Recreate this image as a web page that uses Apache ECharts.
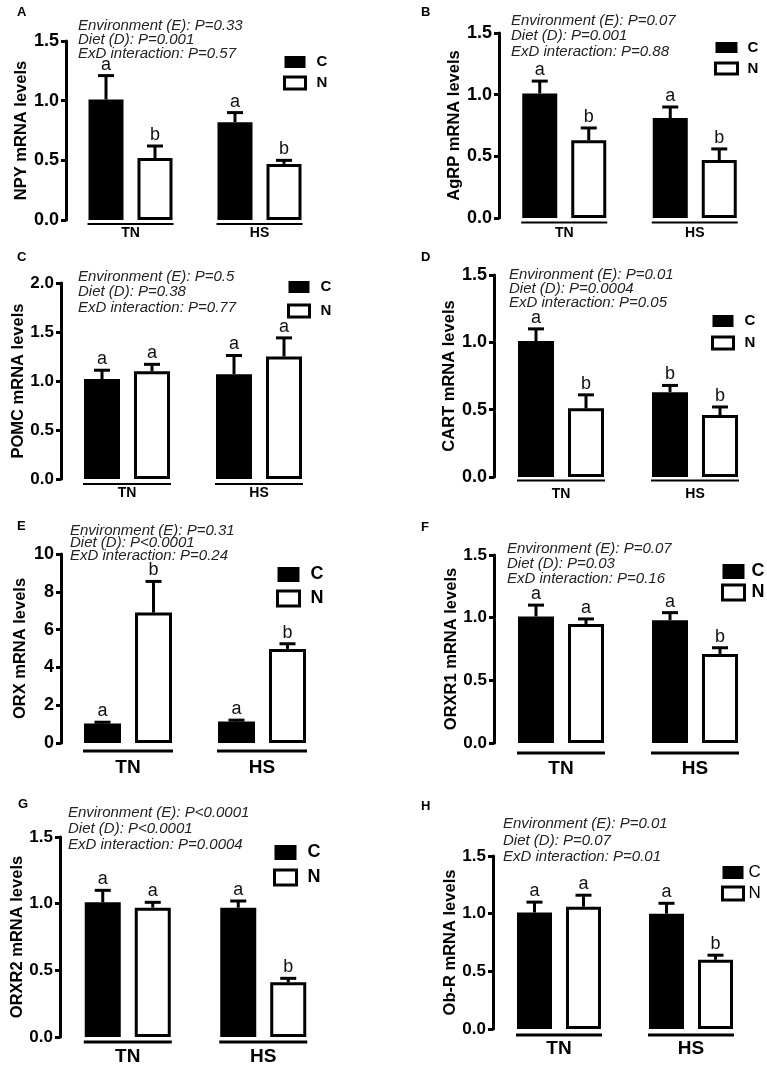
<!DOCTYPE html>
<html>
<head>
<meta charset="utf-8">
<script src="https://cdn.jsdelivr.net/npm/echarts@6/dist/echarts.min.js"></script>
<style>
html,body{margin:0;padding:0;background:#fff;}
#chart{width:767px;height:1066px;}
</style>
</head>
<body>
<div id="chart"></div>
<script>
// ---------- data ----------
const groups = ['TN', 'HS'];
const diets = ['C', 'N'];
const panelLetters = ['A', 'B', 'C', 'D', 'E', 'F', 'G', 'H'];
const yNames = ['NPY mRNA levels', 'AgRP mRNA levels', 'POMC mRNA levels', 'CART mRNA levels',
                'ORX mRNA levels', 'ORXR1 mRNA levels', 'ORXR2 mRNA levels', 'Ob-R mRNA levels'];
const yMax = [1.5, 1.5, 2.0, 1.5, 10, 1.5, 1.5, 1.5];
const yStep = [0.5, 0.5, 0.5, 0.5, 2, 0.5, 0.5, 0.5];
const meanC = [[1.01, 0.82], [1.01, 0.81], [1.02, 1.07], [1.01, 0.63], [1.03, 1.14], [1.01, 0.98], [1.01, 0.97], [1.01, 1.00]];
const semC  = [[0.20, 0.08], [0.10, 0.09], [0.09, 0.19], [0.09, 0.05], [0.07, 0.07], [0.09, 0.06], [0.09, 0.05], [0.09, 0.09]];
const meanN = [[0.52, 0.47], [0.63, 0.47], [1.10, 1.25], [0.51, 0.46], [6.90, 4.98], [0.95, 0.71], [0.97, 0.41], [1.06, 0.60]];
const semN  = [[0.10, 0.03], [0.10, 0.09], [0.07, 0.19], [0.10, 0.06], [1.65, 0.27], [0.04, 0.05], [0.04, 0.03], [0.10, 0.04]];
const letterC = [['a', 'a'], ['a', 'a'], ['a', 'a'], ['a', 'b'], ['a', 'a'], ['a', 'a'], ['a', 'a'], ['a', 'a']];
const letterN = [['b', 'b'], ['b', 'b'], ['a', 'a'], ['b', 'b'], ['b', 'b'], ['a', 'b'], ['a', 'b'], ['a', 'b']];
const pEnv  = ['P=0.33', 'P=0.07', 'P=0.5', 'P=0.01', 'P=0.31', 'P=0.07', 'P<0.0001', 'P=0.01'];
const pDiet = ['P=0.001', 'P=0.001', 'P=0.38', 'P=0.0004', 'P<0.0001', 'P=0.03', 'P<0.0001', 'P=0.07'];
const pInt  = ['P=0.57', 'P=0.88', 'P=0.77', 'P=0.05', 'P=0.24', 'P=0.16', 'P=0.0004', 'P=0.01'];

// ---------- layout (positions / styles) ----------
const FONT = '"Liberation Sans", Arial, Helvetica, sans-serif';
const layout = [
  {grid: [66, 41, 258, 179], bw: 35, yFont: 18, xFont: 14, xMargin: 6, ul: 4, ulW: 2, stat: [78, 18, 14], leg: [283, 54.5, 21, 12, 6], legFont: 15, legBold: true, legPad: 6, letter: [17, 6]},
  {grid: [499, 33, 261, 185], bw: 35, yFont: 18, xFont: 14, xMargin: 8, ul: 4.5, ulW: 2, stat: [511, 13, 15.5], leg: [714, 40, 22, 11, 6], legFont: 15, legBold: true, legPad: 5, letter: [421, 6]},
  {grid: [61, 283, 264, 196], bw: 36, yFont: 17, xFont: 14, xMargin: 7, ul: 5, ulW: 2, stat: [78, 269, 15.5], leg: [287, 279.5, 21, 12, 9], legFont: 15, legBold: true, legPad: 6, letter: [17, 251]},
  {grid: [494, 275, 268, 202], bw: 36, yFont: 18, xFont: 14, xMargin: 10, ul: 3.5, ulW: 2, stat: [509, 267, 14], leg: [711, 313.5, 21, 12, 7], legFont: 15, legBold: true, legPad: 6, letter: [421, 251]},
  {grid: [61, 554, 268, 189], bw: 37, yFont: 18, xFont: 19, xMargin: 15, ul: 8, ulW: 3, stat: [70, 523, 12.5], leg: [276, 565.5, 22, 15, 6], legFont: 18, legBold: true, legPad: 6, letter: [17, 520]},
  {grid: [494, 555, 268, 188], bw: 36, yFont: 17, xFont: 19, xMargin: 16, ul: 10, ulW: 3, stat: [507, 541, 15], leg: [721, 562.5, 22, 15, 3], legFont: 18, legBold: true, legPad: 2, letter: [421, 521]},
  {grid: [60, 837, 271, 201], bw: 36, yFont: 17, xFont: 19, xMargin: 10, ul: 5, ulW: 3, stat: [68, 805, 16], leg: [273, 843.5, 22, 15, 7], legFont: 18, legBold: true, legPad: 6, letter: [18, 798]},
  {grid: [493, 856, 264, 173], bw: 35, yFont: 17, xFont: 19, xMargin: 10, ul: 6, ulW: 3, stat: [503, 816, 16.5], leg: [721, 864, 21, 13, 4], legFont: 17, legBold: false, legPad: 0, letter: [421, 800]}
];
const GAP = 14;

const option = {
  backgroundColor: '#fff',
  animation: false,
  grid: [], xAxis: [], yAxis: [], series: [], legend: [], graphic: []
};

layout.forEach((L, p) => {
  const [gl, gt, gw, gh] = L.grid;
  const off = (L.bw + GAP) / 2;
  option.grid.push({left: gl, top: gt, width: gw, height: gh, containLabel: false});
  option.xAxis.push({
    type: 'category', gridIndex: p, data: groups,
    axisLine: {show: false}, axisTick: {show: false}, splitLine: {show: false},
    axisLabel: {color: '#000', fontWeight: 'bold', fontSize: L.xFont, fontFamily: FONT, margin: L.xMargin}
  });
  option.yAxis.push({
    type: 'value', gridIndex: p, min: 0, max: yMax[p], interval: yStep[p],
    name: yNames[p], nameLocation: 'middle', nameGap: 32,
    nameTextStyle: {color: '#000', fontWeight: 'bold', fontSize: 16.5, fontFamily: FONT},
    axisLine: {show: true, lineStyle: {color: '#000', width: 3}},
    axisTick: {show: true, length: 5, lineStyle: {color: '#000', width: 3}},
    splitLine: {show: false},
    axisLabel: {
      color: '#000', fontWeight: 'bold', fontSize: L.yFont, fontFamily: FONT, margin: 7,
      formatter: v => yStep[p] >= 1 ? String(Math.round(v)) : v.toFixed(1)
    }
  });
  option.series.push({
    name: 'C', type: 'bar', xAxisIndex: p, yAxisIndex: p,
    data: meanC[p], barWidth: L.bw, barGap: (GAP / L.bw * 100) + '%',
    itemStyle: {color: '#000'}, z: 2
  });
  option.series.push({
    name: 'N', type: 'bar', xAxisIndex: p, yAxisIndex: p,
    data: meanN[p], barWidth: L.bw, barGap: (GAP / L.bw * 100) + '%',
    itemStyle: {color: '#fff', borderColor: '#000', borderWidth: 3}, z: 2
  });
  // error bars + significance letters
  const errData = [];
  groups.forEach((g, gi) => {
    errData.push([gi, meanC[p][gi], semC[p][gi], 0]);
    errData.push([gi, meanN[p][gi], semN[p][gi], 1]);
  });
  const letters = [];
  groups.forEach((g, gi) => { letters.push(letterC[p][gi]); letters.push(letterN[p][gi]); });
  option.series.push({
    type: 'custom', xAxisIndex: p, yAxisIndex: p, z: 5, silent: true,
    data: errData, encode: {x: 0, y: 1},
    renderItem: (params, api) => {
      const gi = api.value(0), m = api.value(1), s = api.value(2), d = api.value(3);
      const base = api.coord([gi, m]);
      const top = api.coord([gi, m + s]);
      const x = base[0] + (d === 0 ? -off : off);
      return {
        type: 'group', children: [
          {type: 'line', shape: {x1: x, y1: base[1], x2: x, y2: top[1]}, style: {stroke: '#000', lineWidth: 3}},
          {type: 'line', shape: {x1: x - 8, y1: top[1], x2: x + 8, y2: top[1]}, style: {stroke: '#000', lineWidth: 3}},
          {type: 'text', x: x, y: top[1] - 2, style: {
            text: letters[params.dataIndex], textAlign: 'center', textVerticalAlign: 'bottom',
            font: '18px ' + FONT, fill: '#111'}}
        ]
      };
    }
  });
  // group underline
  option.series.push({
    type: 'custom', xAxisIndex: p, yAxisIndex: p, z: 5, silent: true,
    data: groups.map((g, gi) => [gi, 0]), encode: {x: 0, y: 1},
    renderItem: (params, api) => {
      const c = api.coord([api.value(0), 0]);
      const half = L.bw + GAP / 2 + 1;
      return {type: 'line', shape: {x1: c[0] - half, y1: c[1] + L.ul, x2: c[0] + half, y2: c[1] + L.ul},
              style: {stroke: '#000', lineWidth: L.ulW}};
    }
  });
  // legend
  const [lx, ly, iw, ih, ig] = L.leg;
  option.legend.push({
    orient: 'vertical', left: lx, top: ly, itemWidth: iw, itemHeight: ih, itemGap: ig,
    padding: 0, selectedMode: false,
    data: [
      {name: 'C', icon: 'rect', itemStyle: {color: '#000', borderWidth: 0}},
      {name: 'N', icon: 'rect', itemStyle: {color: '#fff', borderColor: '#000', borderWidth: 3}}
    ],
    textStyle: {color: '#000', fontSize: L.legFont, fontWeight: L.legBold ? 'bold' : 'normal',
                fontFamily: FONT, padding: [0, 0, 0, L.legPad]}
  });
  // statistics text
  const [sx, sy, slh] = L.stat;
  option.graphic.push({
    type: 'text', left: sx, top: sy, silent: true,
    style: {text: 'Environment (E): ' + pEnv[p] + '\nDiet (D): ' + pDiet[p] + '\nExD interaction: ' + pInt[p],
            font: 'italic 15px ' + FONT, lineHeight: slh, fill: '#222'}
  });
  // panel letter
  option.graphic.push({
    type: 'text', left: L.letter[0], top: L.letter[1], silent: true,
    style: {text: panelLetters[p], font: 'bold 13px ' + FONT, fill: '#000'}
  });
});

const chart = echarts.init(document.getElementById('chart'), null, {renderer: 'canvas'});
chart.setOption(option);
</script>
</body>
</html>
